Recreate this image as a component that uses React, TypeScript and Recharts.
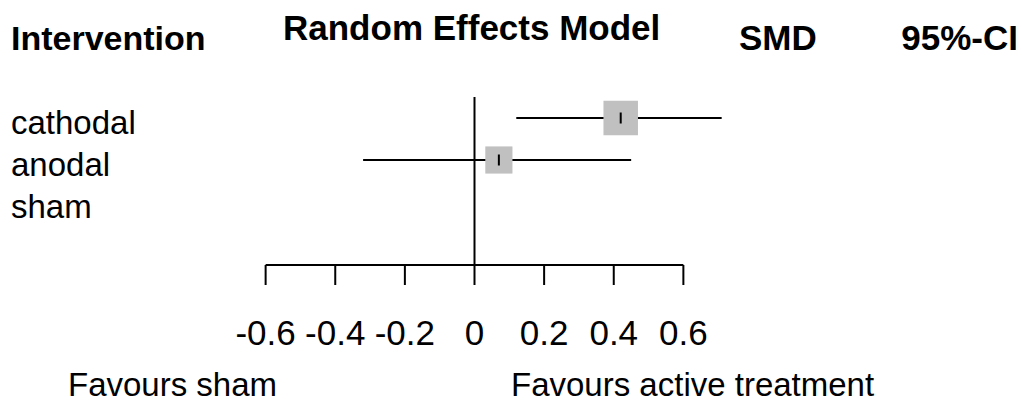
import {
  ComposedChart,
  Scatter,
  ErrorBar,
  XAxis,
  YAxis,
  ReferenceLine,
  Customized,
} from "recharts";

const interventions = ["cathodal", "anodal", "sham"];
const smd = [0.42, 0.07, 0.0];
const ciLower: (number | null)[] = [0.12, -0.32, null];
const ciUpper: (number | null)[] = [0.71, 0.45, null];
const weights: (number | null)[] = [100, 62, null];
const xTicks = [-0.6, -0.4, -0.2, 0, 0.2, 0.4, 0.6];
const rowTicks = [1, 2, 3];

const FONT = "'Liberation Sans', Arial, sans-serif";

const rows = interventions
  .map((name, i) => ({
    name,
    row: i + 1,
    smd: smd[i],
    lower: ciLower[i],
    upper: ciUpper[i],
    weight: weights[i],
  }))
  .filter((r) => r.lower !== null && r.upper !== null)
  .map((r) => ({
    ...r,
    err: [r.smd - (r.lower as number), (r.upper as number) - r.smd],
  }));

const fmtCI = (v: number) => (v >= 0 ? " " + v.toFixed(2) : v.toFixed(2));

// grey square sized by weight, with a small tick at the estimate
function WeightSquare(props: any) {
  const { cx, cy, payload } = props;
  const side = 34.5 * Math.sqrt(payload.weight / 100);
  return (
    <g>
      <rect
        x={cx - side / 2}
        y={cy - side / 2}
        width={side}
        height={side}
        fill="#c0c0c0"
      />
      <line x1={cx} x2={cx} y1={cy - 5.5} y2={cy + 5.5} stroke="#000" strokeWidth={2} />
    </g>
  );
}

function LeftTick(props: any) {
  const { y, payload } = props;
  return (
    <text x={11} y={y + 16} fontSize={33} fontFamily={FONT} fill="#000">
      {interventions[payload.value - 1]}
    </text>
  );
}

function RightTick(props: any) {
  const { y, payload } = props;
  const i = payload.value - 1;
  const lo = ciLower[i];
  const hi = ciUpper[i];
  return (
    <g>
      <text x={751} y={y + 16} fontSize={31} fontFamily={FONT} fill="#000">
        {smd[i].toFixed(2)}
      </text>
      {lo !== null && hi !== null && (
        <text x={1016} y={y + 16} fontSize={31} fontFamily={FONT} fill="#000" textAnchor="end">
          {`[${fmtCI(lo)}; ${fmtCI(hi)}]`}
        </text>
      )}
    </g>
  );
}

function Texts() {
  const bold = { fontSize: 35, fontWeight: 700, fontFamily: FONT, fill: "#000" };
  const plain = { fontSize: 33, fontFamily: FONT, fill: "#000" };
  return (
    <g>
      <text x={11} y={50} {...bold} fontSize={34}>Intervention</text>
      <text x={283} y={40} {...bold}>Random Effects Model</text>
      <text x={739} y={50} {...bold}>SMD</text>
      <text x={1018} y={50} {...bold} textAnchor="end">95%-CI</text>
      <text x={68} y={396} {...plain}>Favours sham</text>
      <text x={511} y={396} {...plain}>Favours active treatment</text>
    </g>
  );
}

export default function App() {
  return (
    <div style={{ position: "absolute", left: 0, top: 0, background: "#fff" }}>
      <ComposedChart
        width={1022}
        height={403}
        data={rows}
        margin={{ top: 97, right: 0, bottom: 0, left: 0 }}
      >
        <XAxis
          dataKey="smd"
          type="number"
          domain={[-0.8, 0.8]}
          ticks={xTicks}
          interval={0}
          height={138}
          axisLine={false}
          tickLine={{ stroke: "#000", strokeWidth: 2 }}
          tickSize={20}
          tickMargin={35}
          tick={{ fontSize: 35, fill: "#000", fontFamily: FONT }}
          tickFormatter={(v: number) => (v === 0 ? "0" : v.toFixed(1))}
        />
        <YAxis
          yAxisId="left"
          dataKey="row"
          type="number"
          domain={[0.5, 4.5]}
          ticks={rowTicks}
          reversed
          width={196}
          axisLine={false}
          tickLine={false}
          interval={0}
          tick={LeftTick}
        />
        <YAxis
          yAxisId="right"
          orientation="right"
          type="number"
          domain={[0.5, 4.5]}
          ticks={rowTicks}
          reversed
          width={269}
          axisLine={false}
          tickLine={false}
          interval={0}
          tick={RightTick}
        />
        <ReferenceLine yAxisId="left" x={0} stroke="#000" strokeWidth={2} />
        <ReferenceLine
          yAxisId="left"
          segment={[
            { x: -0.6, y: 4.5 },
            { x: 0.6, y: 4.5 },
          ]}
          stroke="#000"
          strokeWidth={2}
        />
        <Scatter
          yAxisId="left"
          dataKey="row"
          shape={WeightSquare}
          isAnimationActive={false}
        >
          <ErrorBar
            dataKey="err"
            direction="x"
            width={0}
            stroke="#000"
            strokeWidth={2}
            isAnimationActive={false}
          />
        </Scatter>
        <Customized component={Texts} />
      </ComposedChart>
    </div>
  );
}
